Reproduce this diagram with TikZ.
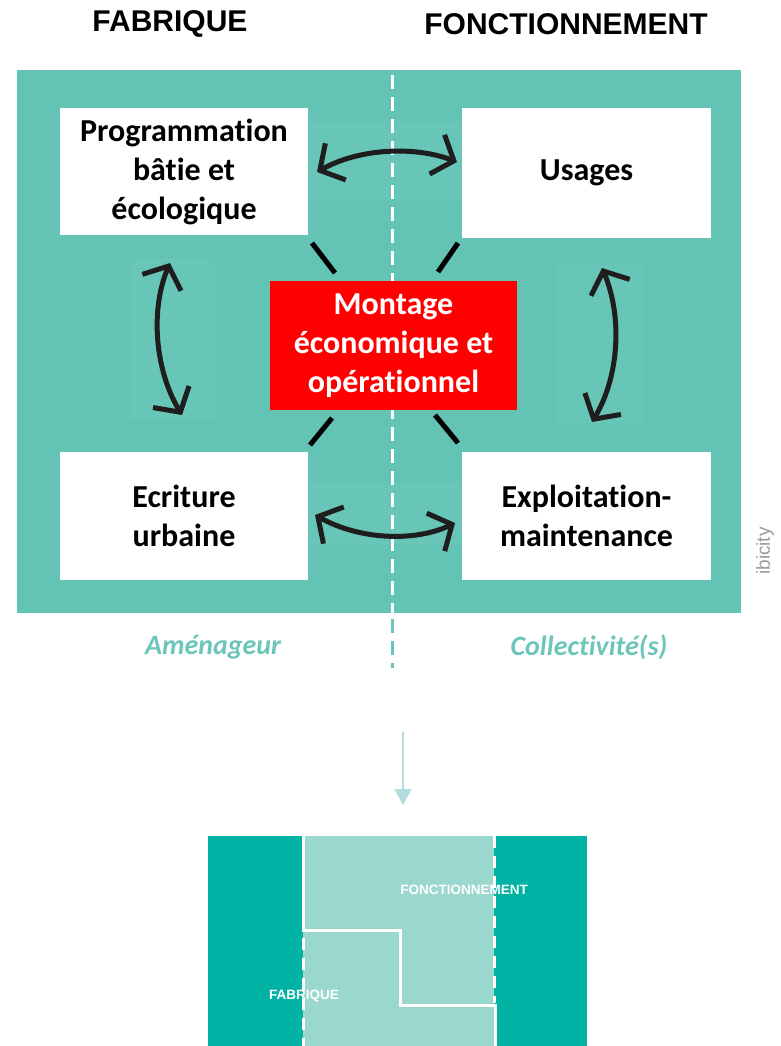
\documentclass[tikz,border=0pt]{standalone}
\usepackage{fontspec}
\setmainfont{Carlito}[Ligatures=NoCommon]
\newfontfamily\titlefont{Liberation Sans}
\usetikzlibrary{arrows.meta}
\definecolor{tealbg}{HTML}{63C3B5}
\definecolor{teallight}{HTML}{68C6B9}
\definecolor{redbox}{HTML}{FF0000}
\definecolor{labelteal}{HTML}{6BC5B9}
\definecolor{darkteal}{HTML}{00B3A4}
\definecolor{paleteal}{HTML}{9AD7CF}
\definecolor{arrowblue}{HTML}{B4DCDF}
\definecolor{inkblack}{HTML}{1E1E1E}
\definecolor{ibigray}{HTML}{9A9A9A}
\tikzset{
  titletext/.style={font=\titlefont\fontsize{30}{36}\selectfont\bfseries, text=black, inner sep=0pt},
  whitebox/.style={fill=white, draw=none, minimum width=248pt, minimum height=128pt, align=center,
    font=\fontsize{32}{39}\selectfont\bfseries, text=black, inner sep=0pt},
  redbx/.style={fill=redbox, draw=none, minimum width=247pt, minimum height=129pt, align=center,
    font=\fontsize{32}{39}\selectfont\bfseries, text=white, inner sep=0pt},
  sidelabel/.style={font=\fontsize{28}{32}\selectfont\bfseries\itshape, text=labelteal, inner sep=0pt},
  twoarrow/.style={draw=inkblack, line width=5pt, line cap=round,
    {Straight Barb[length=18pt,width=42pt,line width=5pt]}-{Straight Barb[length=18pt,width=42pt,line width=5pt]}},
  tick/.style={draw=black, line width=5pt},
  smalltitle/.style={font=\titlefont\fontsize{13.5}{16}\selectfont\bfseries, text=white, inner sep=0pt},
}
\begin{document}
\begin{tikzpicture}[x=1pt,y=-1pt]
\useasboundingbox (0,0) rectangle (780,1046);
% titles
\node[titletext] (tfab) at (170,24) {FABRIQUE};
\node[titletext] (tfon) at (566,24) {FONCTIONNEMENT};
% main panel
\fill[tealbg] (17,70) rectangle (741,613);
\fill[teallight] (307,122) rectangle (463,200);
\fill[teallight] (307,482) rectangle (463,545);
\fill[teallight] (130,258) rectangle (215,420);
\fill[teallight] (557,265) rectangle (645,423);
% dashed separator
\draw[white, line width=3pt, dash pattern=on 14pt off 8pt] (392,75) -- (392,613);
\draw[labelteal, line width=3pt, dash pattern=on 14pt off 8pt] (392,619) -- (392,668);
% boxes
\node[whitebox, minimum height=127pt] (prog) at (184,171.5) {Programmation\\bâtie et\\écologique};
\node[whitebox, minimum width=249pt, minimum height=130pt] (usag) at (586.5,173) {Usages};
\node[whitebox] (ecri) at (184,516) {Ecriture\\urbaine};
\node[whitebox, minimum width=249pt] (expl) at (586.5,516) {Exploitation-\\maintenance};
\node[redbx] (mont) at (393.5,345.5) {Montage\\économique et\\opérationnel};
% ticks
\draw[tick] (312,243) -- (335,273);
\draw[tick] (458,243) -- (438,272);
\draw[tick] (332,418) -- (310,445);
\draw[tick] (435,415) -- (458,443);
% arrows
\coordinate (a1s) at (317,172); \coordinate (a1e) at (457,162);
\coordinate (a2s) at (315,515); \coordinate (a2e) at (455,523);
\coordinate (a3s) at (170,263); \coordinate (a3e) at (182,415);
\coordinate (a4s) at (602,268); \coordinate (a4e) at (592,422);
\draw[twoarrow] (a1s) .. controls (360,148) and (415,146) .. (a1e);
\draw[twoarrow] (a2s) .. controls (360,540) and (415,542) .. (a2e);
\draw[twoarrow] (a3s) .. controls (150,310) and (155,370) .. (a3e);
\draw[twoarrow] (a4s) .. controls (622,315) and (620,375) .. (a4e);
% labels
\node[sidelabel] (amen) at (213,647) {Aménageur};
\node[sidelabel] (coll) at (589,647) {Collectivité(s)};
\node[font=\titlefont\fontsize{19}{22}\selectfont, text=ibigray, rotate=90, inner sep=0pt] (ibic) at (765,551) {ibicity};
% down arrow
\coordinate (dstart) at (403,732);
\coordinate (dend) at (403,805);
\draw[arrowblue, line width=2pt, -{Triangle[length=16pt,width=17pt]}] (dstart) -- (dend);
% bottom panel
\fill[darkteal] (208,836) rectangle (587,1046);
\fill[paleteal] (303,836) rectangle (494,1046);
\node[smalltitle] (bfon) at (464,890) {FONCTIONNEMENT};
\node[smalltitle] (bfab) at (304,996) {FABRIQUE};
\draw[white, line width=3pt] (303,836) -- (303,930) -- (400,930) -- (400,1005) -- (495,1005) -- (495,1046);
\draw[white, line width=3pt, dash pattern=on 12pt off 8pt] (303,938) -- (303,1046);
\draw[white, line width=3pt, dash pattern=on 12pt off 8pt] (494,836) -- (494,1003);
\end{tikzpicture}
\end{document}
